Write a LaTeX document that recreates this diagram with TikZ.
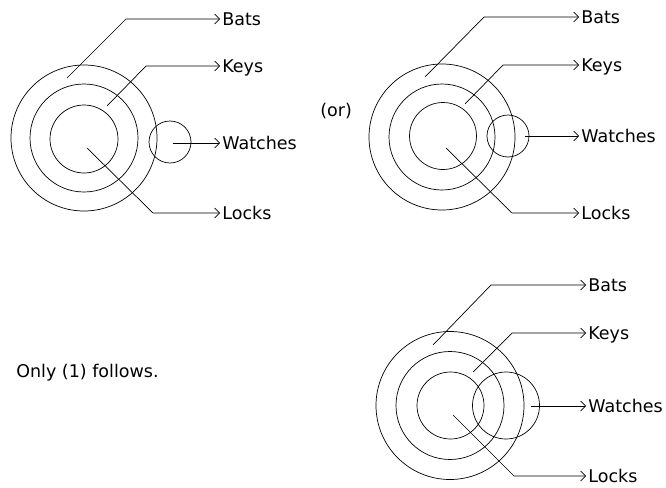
\documentclass[tikz,border=0pt]{standalone}
\usepackage{fontspec}
\setmainfont{DejaVu Sans}
\usetikzlibrary{arrows.meta}
\tikzset{
  ring/.style={draw, circle, inner sep=0pt},
  lbl/.style={anchor=west, inner xsep=2pt, inner ysep=0pt, text height=12.8pt,
    text depth=0pt, font=\fontsize{17.5}{20}\selectfont},
}

\begin{document}
\begin{tikzpicture}[x=1pt, y=-1pt, line width=0.7pt,
    >={Straight Barb[length=5pt, width=10pt]}]
    \useasboundingbox (0,0) rectangle (666,487);
    % first case
    \node[ring, minimum size=146pt] (O1) at (84,138){};
    \node[ring, minimum size=108pt] (M1) at (84,138){};
    \node[ring, minimum size=68pt] (I1) at (84,139){};
    \node[ring, minimum size=42pt] (W1) at (170,142){};
    \node[lbl] (Bats1) at (220,19){Bats};
    \node[lbl] (Keys1) at (220,66){Keys};
    \node[lbl] (Watches1) at (220,143){Watches};
    \node[lbl] (Locks1) at (220,213){Locks};
    \coordinate (b1) at (67,78);
    \coordinate (k1) at (107,106);
    \coordinate (w1) at (173,143);
    \coordinate (l1) at (87,148);
    \draw[->] (b1) -- ++(59,-59) -- (Bats1.west);
    \draw[->] (k1) -- ++(39,-40) -- (Keys1.west);
    \draw[->] (w1) -- (Watches1.west);
    \draw[->] (l1) -- ++(66,65) -- (Locks1.west);
    % second case
    \node[lbl] (or) at (318,110){(or)};
    \node[ring, minimum size=146pt] (O2) at (442,137){};
    \node[ring, minimum size=106pt] (M2) at (442,137){};
    \node[ring, minimum size=67pt] (I2) at (443,136){};
    \node[ring, minimum size=42pt] (W2) at (508,136){};
    \node[lbl] (Bats2) at (579,17){Bats};
    \node[lbl] (Keys2) at (579,65){Keys};
    \node[lbl] (Watches2) at (579,136){Watches};
    \node[lbl] (Locks2) at (579,213){Locks};
    \coordinate (b2) at (425,77);
    \coordinate (k2) at (465,104);
    \coordinate (w2) at (525,136);
    \coordinate (l2) at (446,148);
    \draw[->] (b2) -- ++(59,-60) -- (Bats2.west);
    \draw[->] (k2) -- ++(38,-39) -- (Keys2.west);
    \draw[->] (w2) -- (Watches2.west);
    \draw[->] (l2) -- ++(66,65) -- (Locks2.west);
    % third case
    \node[lbl] (only) at (14,371){Only (1) follows.};
    \node[ring, minimum size=148pt] (O3) at (450,405.5){};
    \node[ring, minimum size=108pt] (M3) at (450,405.5){};
    \node[ring, minimum size=67pt] (I3) at (450.5,405.5){};
    \node[ring, minimum size=67pt] (W3) at (506,405.5){};
    \node[lbl] (Bats3) at (586,285){Bats};
    \node[lbl] (Keys3) at (586,333){Keys};
    \node[lbl] (Watches3) at (586,406){Watches};
    \node[lbl] (Locks3) at (586,476){Locks};
    \coordinate (b3) at (433,345);
    \coordinate (k3) at (473,372);
    \coordinate (w3) at (531,406);
    \coordinate (l3) at (453,415);
    \draw[->] (b3) -- ++(58,-60) -- (Bats3.west);
    \draw[->] (k3) -- ++(39,-39) -- (Keys3.west);
    \draw[->] (w3) -- (Watches3.west);
    \draw[->] (l3) -- ++(61,61) -- (Locks3.west);
\end{tikzpicture}
\end{document}
